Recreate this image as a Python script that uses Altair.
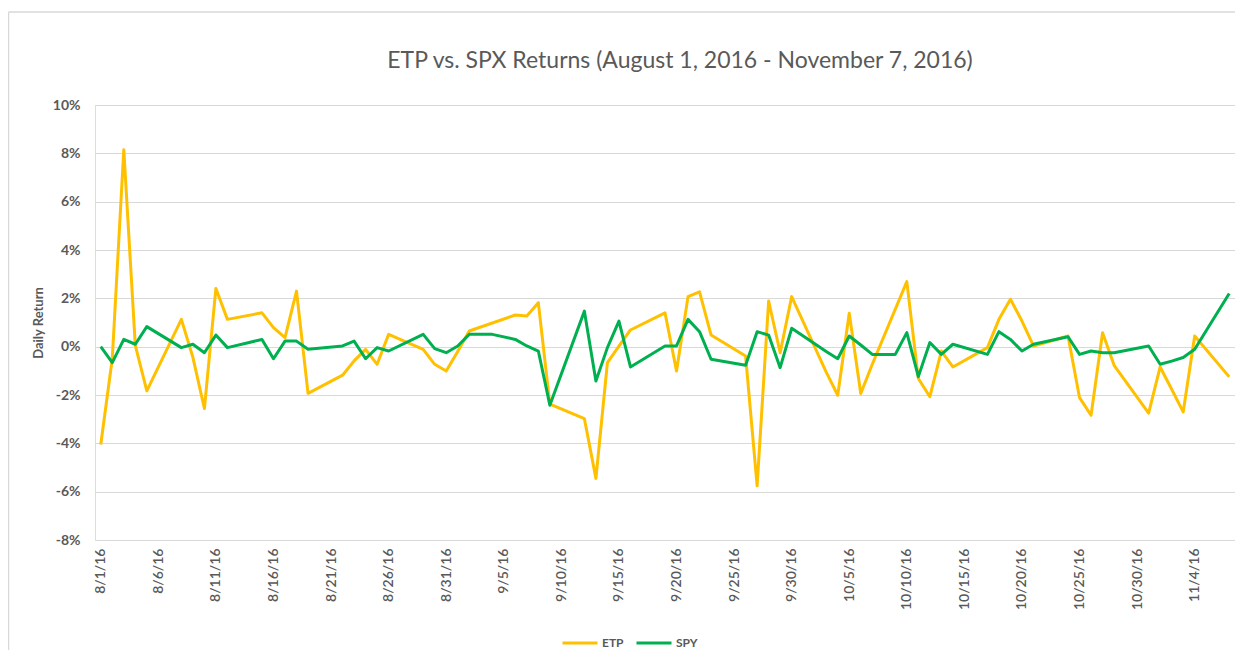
import altair as alt
import pandas as pd

# ---------------- data ----------------
dates = [
    "2016-08-01", "2016-08-02", "2016-08-03", "2016-08-04", "2016-08-05",
    "2016-08-08", "2016-08-09", "2016-08-10", "2016-08-11", "2016-08-12",
    "2016-08-15", "2016-08-16", "2016-08-17", "2016-08-18", "2016-08-19",
    "2016-08-22", "2016-08-23", "2016-08-24", "2016-08-25", "2016-08-26",
    "2016-08-29", "2016-08-30", "2016-08-31", "2016-09-01", "2016-09-02",
    "2016-09-04",
    "2016-09-06", "2016-09-07", "2016-09-08", "2016-09-09",
    "2016-09-12", "2016-09-13", "2016-09-14", "2016-09-15", "2016-09-16",
    "2016-09-19", "2016-09-20", "2016-09-21", "2016-09-22", "2016-09-23",
    "2016-09-26", "2016-09-27", "2016-09-28", "2016-09-29", "2016-09-30",
    "2016-10-03", "2016-10-04", "2016-10-05", "2016-10-06", "2016-10-07",
    "2016-10-09",
    "2016-10-10", "2016-10-11", "2016-10-12", "2016-10-13", "2016-10-14",
    "2016-10-17", "2016-10-18", "2016-10-19", "2016-10-20", "2016-10-21",
    "2016-10-24", "2016-10-25", "2016-10-26", "2016-10-27", "2016-10-28",
    "2016-10-31", "2016-11-01", "2016-11-02", "2016-11-03", "2016-11-04",
    "2016-11-07",
]

# daily returns in percent (None = no point on that date)
etp = [
    -4.05, -0.50, 8.15, 0.05, -1.83,
    1.13, -0.44, -2.56, 2.41, 1.13,
    1.40, 0.79, 0.37, 2.30, -1.93,
    -1.18, -0.59, -0.11, -0.73, 0.51,
    -0.11, -0.73, -1.01, -0.20, 0.65,
    None,
    1.31, 1.27, 1.82, -2.38,
    -2.98, -5.45, -0.66, 0.02, 0.69,
    1.40, -1.01, 2.07, 2.27, 0.48,
    -0.39, -5.76, 1.89, -0.25, 2.07,
    -1.05, -2.01, 1.38, -1.94, -0.73,
    None,
    2.69, -1.32, -2.07, -0.18, -0.84,
    -0.04, 1.13, 1.96, 1.06, 0.03,
    0.44, -2.11, -2.84, 0.58, -0.77,
    -2.75, -0.84, -1.76, -2.70, 0.44,
    -1.25,
]

spy = [
    0.00, -0.66, 0.30, 0.10, 0.83,
    -0.04, 0.10, -0.25, 0.48, -0.04,
    0.30, -0.50, 0.23, 0.23, -0.11,
    0.03, 0.23, -0.50, -0.04, -0.18,
    0.51, -0.08, -0.25, 0.03, 0.51,
    0.51,
    0.30, 0.03, -0.18, -2.42,
    1.47, -1.42, -0.04, 1.06, -0.84,
    0.03, 0.03, 1.13, 0.62, -0.52,
    -0.77, 0.62, 0.48, -0.87, 0.76,
    -0.20, -0.50, 0.44, 0.07, -0.32,
    -0.32,
    0.58, -1.24, 0.17, -0.32, 0.10,
    -0.32, 0.62, 0.30, -0.18, 0.10,
    0.41, -0.32, -0.18, -0.25, -0.25,
    0.03, -0.73, -0.60, -0.45, -0.11,
    2.20,
]

series_names = ["ETP", "SPY"]
series_colors = ["#FFC000", "#00B050"]

tick_dates = [
    (8, 1), (8, 6), (8, 11), (8, 16), (8, 21), (8, 26), (8, 31),
    (9, 5), (9, 10), (9, 15), (9, 20), (9, 25), (9, 30),
    (10, 5), (10, 10), (10, 15), (10, 20), (10, 25), (10, 30),
    (11, 4),
]
y_ticks = [-0.08, -0.06, -0.04, -0.02, 0.0, 0.02, 0.04, 0.06, 0.08, 0.10]

title_text = "ETP vs. SPX Returns (August 1, 2016 - November 7, 2016)"

# ---------------- build long table ----------------
rows = []
for name, vals in zip(series_names, [etp, spy]):
    for d, v in zip(dates, vals):
        if v is not None:
            rows.append({"date": d + "T00:00:00", "series": name, "ret": v / 100.0})
df = pd.DataFrame(rows)

TEXT = "#595959"
GRID = "#d9d9d9"
FONT = "Lato"

W, H = 1140, 435

x_enc = alt.X(
    "date:T",
    scale=alt.Scale(
        domain=[
            alt.DateTime(year=2016, month=7, date=31, hours=12),
            alt.DateTime(year=2016, month=11, date=7, hours=12),
        ]
    ),
    axis=alt.Axis(
        values=[alt.DateTime(year=2016, month=m, date=d) for m, d in tick_dates],
        format="%-m/%-d/%y",
        labelAngle=270,
        labelPadding=8,
        labelFont=FONT,
        labelFontSize=14,
        labelFontWeight=600,
        labelColor=TEXT,
        grid=False,
        domain=False,
        ticks=False,
        title=None,
        labelOverlap=False,
    ),
)

y_enc = alt.Y(
    "ret:Q",
    scale=alt.Scale(domain=[-0.08, 0.10], nice=False, zero=False),
    axis=alt.Axis(
        values=y_ticks,
        labelExpr="round(datum.value*100) + '%'",
        labelPadding=15,
        labelFont=FONT,
        labelFontSize=14,
        labelFontWeight="bold",
        labelColor=TEXT,
        grid=True,
        gridColor=GRID,
        gridWidth=1,
        domain=False,
        ticks=False,
        title="Daily Return",
        titleFontSize=13,
        titleFontWeight="bold",
        titleColor=TEXT,
        titleFont=FONT,
        titleAngle=270,
        titleX=-57,
        titleY=H / 2,
        titleAlign="center",
        titleBaseline="middle",
    ),
)

lines = alt.Chart(df).mark_line(strokeWidth=3, strokeJoin="round").encode(
    x=x_enc,
    y=y_enc,
    color=alt.Color(
        "series:N",
        scale=alt.Scale(domain=series_names, range=series_colors),
        legend=alt.Legend(
            title=None,
            orient="none",
            direction="horizontal",
            legendX=466,
            legendY=519,
            symbolType="stroke",
            symbolSize=1225,
            symbolStrokeWidth=3,
            labelFont=FONT,
            labelFontSize=12,
            labelFontWeight="bold",
            labelColor=TEXT,
            labelOffset=3,
            columnPadding=6,
        ),
    ),
    order=alt.Order("series:N"),
)

frame_df = pd.DataFrame({"k": [0]})
frame_top = alt.Chart(frame_df).mark_rule(color=GRID, strokeWidth=1.5).encode(
    x=alt.value(-86.5), x2=alt.value(W + 5), y=alt.value(-93)
)
frame_left = alt.Chart(frame_df).mark_rule(color=GRID, strokeWidth=1.5).encode(
    x=alt.value(-86.5), y=alt.value(-93), y2=alt.value(H + 120)
)

chart = (
    alt.layer(frame_top, frame_left, lines)
    .properties(
        width=W,
        height=H,
        title=alt.TitleParams(
            title_text,
            font=FONT,
            fontSize=23,
            fontWeight="normal",
            color=TEXT,
            anchor="middle",
            frame="group",
            dx=15,
            offset=-62,
        ),
        autosize=alt.AutoSizeParams(type="none"),
        padding={"left": 87, "top": 97, "right": 0, "bottom": 110},
    )
    .configure_view(stroke=None)
    .configure_axis(labelFont=FONT, labelColor=TEXT)
    .configure(background="white")
)

chart.save("out.html", embed_options={"renderer": "svg", "actions": False})
